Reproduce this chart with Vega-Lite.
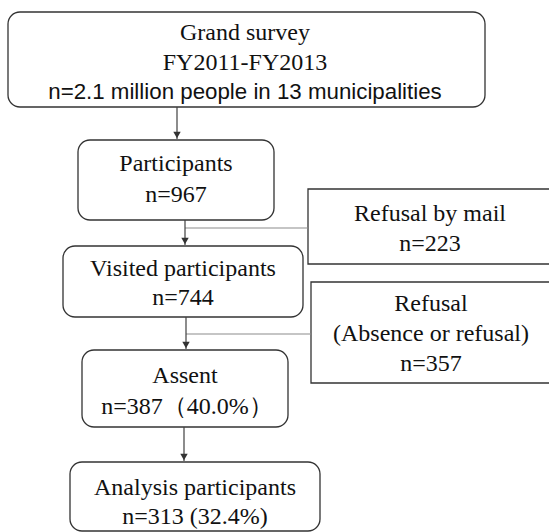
{
  "$schema": "https://vega.github.io/schema/vega-lite/v6.json",
  "width": 549,
  "height": 532,
  "padding": 0,
  "autosize": {"type": "none"},
  "background": "white",
  "config": {"view": {"stroke": null}},
  "datasets": {
    "boxes": [
      {"name": "Grand survey", "x0": 8, "x1": 485, "y0": 12, "y1": 107, "shape": "rounded"},
      {"name": "Participants", "x0": 78, "x1": 274, "y0": 140, "y1": 220, "shape": "rounded"},
      {"name": "Refusal by mail", "x0": 308, "x1": 560, "y0": 189, "y1": 264, "shape": "square"},
      {"name": "Visited participants", "x0": 63, "x1": 303, "y0": 246, "y1": 317, "shape": "rounded"},
      {"name": "Refusal", "x0": 311, "x1": 560, "y0": 282, "y1": 383, "shape": "square"},
      {"name": "Assent", "x0": 82, "x1": 288, "y0": 350, "y1": 427, "shape": "rounded"},
      {"name": "Analysis participants", "x0": 70, "x1": 320, "y0": 462, "y1": 531, "shape": "rounded"}
    ],
    "labels": [
      {"text": "Grand survey", "x": 245, "y": 33, "font": "serif"},
      {"text": "FY2011-FY2013", "x": 245, "y": 63, "font": "serif"},
      {"text": "n=2.1 million people in 13 municipalities", "x": 245, "y": 92, "font": "sans"},
      {"text": "Participants", "x": 176, "y": 164, "font": "serif"},
      {"text": "n=967", "x": 176, "y": 195, "font": "serif"},
      {"text": "Refusal by mail", "x": 430, "y": 214, "font": "serif"},
      {"text": "n=223", "x": 430, "y": 244, "font": "serif"},
      {"text": "Visited participants", "x": 183, "y": 269, "font": "serif"},
      {"text": "n=744", "x": 183, "y": 298, "font": "serif"},
      {"text": "Refusal", "x": 431, "y": 304, "font": "serif"},
      {"text": "(Absence or refusal)", "x": 431, "y": 334, "font": "serif"},
      {"text": "n=357", "x": 431, "y": 364, "font": "serif"},
      {"text": "Assent", "x": 185, "y": 376, "font": "serif"},
      {"text": "n=387（40.0%）", "x": 187, "y": 407, "font": "serif"},
      {"text": "Analysis participants", "x": 195, "y": 488, "font": "serif"},
      {"text": "n=313 (32.4%)", "x": 195, "y": 517, "font": "serif"}
    ],
    "links": [
      {"x0": 177, "y0": 107, "x1": 177, "y1": 139, "kind": "arrow"},
      {"x0": 185, "y0": 220, "x1": 185, "y1": 245, "kind": "arrow"},
      {"x0": 185, "y0": 228, "x1": 308, "y1": 228, "kind": "branch"},
      {"x0": 186, "y0": 317, "x1": 186, "y1": 349, "kind": "arrow"},
      {"x0": 186, "y0": 334, "x1": 311, "y1": 334, "kind": "branch"},
      {"x0": 184, "y0": 427, "x1": 184, "y1": 461, "kind": "arrow"}
    ],
    "heads": [
      {"x": 177, "y": 135},
      {"x": 185, "y": 241},
      {"x": 186, "y": 345},
      {"x": 184, "y": 457}
    ]
  },
  "layer": [
    {
      "data": {"name": "boxes"},
      "transform": [{"filter": "datum.shape === 'rounded'"}],
      "mark": {"type": "rect", "cornerRadius": 12, "fill": "white", "stroke": "#333333", "strokeWidth": 1.3},
      "encoding": {
        "x": {"field": "x0", "type": "quantitative", "scale": {"domain": [0, 549], "nice": false, "zero": false}, "axis": null},
        "x2": {"field": "x1"},
        "y": {"field": "y0", "type": "quantitative", "scale": {"domain": [0, 532], "nice": false, "zero": false, "reverse": true}, "axis": null},
        "y2": {"field": "y1"}
      }
    },
    {
      "data": {"name": "boxes"},
      "transform": [{"filter": "datum.shape === 'square'"}],
      "mark": {"type": "rect", "fill": "white", "stroke": "#333333", "strokeWidth": 1.3, "clip": true},
      "encoding": {
        "x": {"field": "x0", "type": "quantitative", "scale": {"domain": [0, 549], "nice": false, "zero": false}, "axis": null},
        "x2": {"field": "x1"},
        "y": {"field": "y0", "type": "quantitative", "scale": {"domain": [0, 532], "nice": false, "zero": false, "reverse": true}, "axis": null},
        "y2": {"field": "y1"}
      }
    },
    {
      "data": {"name": "links"},
      "transform": [{"filter": "datum.kind === 'branch'"}],
      "mark": {"type": "rule", "stroke": "#8c8c8c", "strokeWidth": 1.2},
      "encoding": {
        "x": {"field": "x0", "type": "quantitative", "scale": {"domain": [0, 549], "nice": false, "zero": false}, "axis": null},
        "x2": {"field": "x1"},
        "y": {"field": "y0", "type": "quantitative", "scale": {"domain": [0, 532], "nice": false, "zero": false, "reverse": true}, "axis": null},
        "y2": {"field": "y1"}
      }
    },
    {
      "data": {"name": "links"},
      "transform": [{"filter": "datum.kind === 'arrow'"}],
      "mark": {"type": "rule", "stroke": "#404040", "strokeWidth": 1.2},
      "encoding": {
        "x": {"field": "x0", "type": "quantitative", "scale": {"domain": [0, 549], "nice": false, "zero": false}, "axis": null},
        "x2": {"field": "x1"},
        "y": {"field": "y0", "type": "quantitative", "scale": {"domain": [0, 532], "nice": false, "zero": false, "reverse": true}, "axis": null},
        "y2": {"field": "y1"}
      }
    },
    {
      "data": {"name": "heads"},
      "mark": {"type": "point", "shape": "triangle-down", "filled": true, "fill": "#333333", "size": 55, "opacity": 1, "strokeWidth": 0},
      "encoding": {
        "x": {"field": "x", "type": "quantitative", "scale": {"domain": [0, 549], "nice": false, "zero": false}, "axis": null},
        "y": {"field": "y", "type": "quantitative", "scale": {"domain": [0, 532], "nice": false, "zero": false, "reverse": true}, "axis": null}
      }
    },
    {
      "data": {"name": "labels"},
      "transform": [{"filter": "datum.font === 'serif'"}],
      "mark": {"type": "text", "font": "Liberation Serif", "fontSize": 24, "color": "#111111", "align": "center", "baseline": "middle"},
      "encoding": {
        "x": {"field": "x", "type": "quantitative", "scale": {"domain": [0, 549], "nice": false, "zero": false}, "axis": null},
        "y": {"field": "y", "type": "quantitative", "scale": {"domain": [0, 532], "nice": false, "zero": false, "reverse": true}, "axis": null},
        "text": {"field": "text"}
      }
    },
    {
      "data": {"name": "labels"},
      "transform": [{"filter": "datum.font === 'sans'"}],
      "mark": {"type": "text", "font": "Liberation Sans", "fontSize": 22.3, "color": "#111111", "align": "center", "baseline": "middle"},
      "encoding": {
        "x": {"field": "x", "type": "quantitative", "scale": {"domain": [0, 549], "nice": false, "zero": false}, "axis": null},
        "y": {"field": "y", "type": "quantitative", "scale": {"domain": [0, 532], "nice": false, "zero": false, "reverse": true}, "axis": null},
        "text": {"field": "text"}
      }
    }
  ]
}
